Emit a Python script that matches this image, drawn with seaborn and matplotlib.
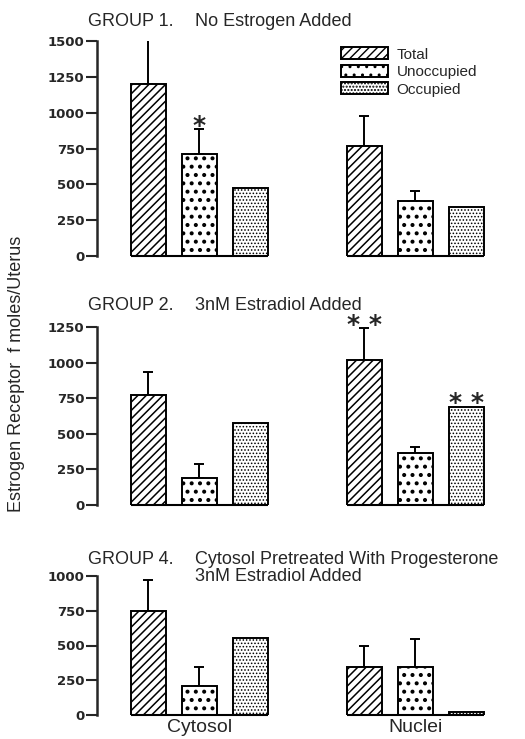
import numpy as np
import pandas as pd
import seaborn as sns
import matplotlib.pyplot as plt
from matplotlib.patches import Patch

sns.set_style("ticks")
plt.rcParams["font.family"] = ["Liberation Sans", "DejaVu Sans"]

# data (fmoles/uterus)
fractions = ["Cytosol", "Nuclei"]
receptor = ["Total", "Unoccupied", "Occupied"]

g1_cyt = [1200, 715, 477]
g1_cyt_err = [320, 170, np.nan]
g1_nuc = [770, 382, 345]
g1_nuc_err = [207, 72, np.nan]

g2_cyt = [774, 188, 575]
g2_cyt_err = [157, 100, np.nan]
g2_nuc = [1020, 368, 691]
g2_nuc_err = [223, 42, np.nan]

g4_cyt = [749, 208, 555]
g4_cyt_err = [220, 134, np.nan]
g4_nuc = [347, 347, 20]
g4_nuc_err = [150, 198, np.nan]

group_names = ["GROUP 1.", "GROUP 2.", "GROUP 4."]
group_desc = [["No Estrogen Added"], ["3nM Estradiol Added"],
              ["Cytosol Pretreated With Progesterone", "3nM Estradiol Added"]]
yticks = [np.arange(0, 1501, 250), np.arange(0, 1251, 250), np.arange(0, 1001, 250)]
stars = [{(1, 0): "*"}, {(0, 1): "* *", (2, 1): "* *"}, {}]

hatches = ["////", "..", "....."]
hatch_lw = [1.1, 1.7, 0.7]

panels = [(g1_cyt, g1_cyt_err, g1_nuc, g1_nuc_err),
          (g2_cyt, g2_cyt_err, g2_nuc, g2_nuc_err),
          (g4_cyt, g4_cyt_err, g4_nuc, g4_nuc_err)]

W, H = 525, 739
fig = plt.figure(figsize=(W / 100, H / 100), dpi=100)

# axes boxes in pixels: (zero line y, top y) and title baselines
boxes = [(256, 41), (505, 327), (715, 576)]
title_base = [26, 310, 564]
x0, x1 = 97, 523.5


def set_hlw(p, lw):
    if hasattr(p, "set_hatch_linewidth"):
        p.set_hatch_linewidth(lw)


for k, (cyt, cyt_err, nuc, nuc_err) in enumerate(panels):
    yb, yt = boxes[k]
    ax = fig.add_axes([x0 / W, (H - yb) / H, (x1 - x0) / W, (yb - yt) / H])

    df = pd.DataFrame({
        "fraction": np.repeat(fractions, 3),
        "receptor": receptor * 2,
        "value": cyt + nuc,
        "err": cyt_err + nuc_err,
    })
    sns.barplot(data=df, x="fraction", y="value", hue="receptor",
                hue_order=receptor, palette=["white"] * 3, errorbar=None,
                width=0.715, gap=0.32, edgecolor="black", linewidth=1.4,
                saturation=1, legend=False, ax=ax, zorder=2)

    bar_conts = list(ax.containers)
    lefts, rights = {0: [], 1: []}, {0: [], 1: []}
    for h, cont in enumerate(bar_conts):
        for j, p in enumerate(cont.patches):
            p.set_hatch(hatches[h])
            set_hlw(p, hatch_lw[h])
            lefts[j].append(p.get_x())
            rights[j].append(p.get_x() + p.get_width())
            e = df[(df.fraction == fractions[j]) & (df.receptor == receptor[h])]["err"].iloc[0]
            xc = p.get_x() + p.get_width() / 2
            top = p.get_height()
            if not np.isnan(e):
                ax.errorbar([xc], [top], yerr=[[0], [e]], fmt="none",
                            ecolor="black", elinewidth=1.4, capsize=3.5,
                            capthick=1.4, zorder=1)
                top = top + e
            if (h, j) in stars[k]:
                ax.annotate(stars[k][(h, j)], (xc, top), xytext=(0, 2.5),
                            textcoords="offset points", ha="center",
                            va="center", fontsize=18, fontweight="bold",
                            family="DejaVu Sans")

    for j in (0, 1):
        ax.hlines(0, min(lefts[j]), max(rights[j]), color="black", lw=1.5,
                  zorder=3, clip_on=False)

    ax.set_xlim(-0.4745, 1.5)
    ax.set_ylim(0, yticks[k][-1])
    ax.set_yticks(yticks[k])
    ax.tick_params(axis="y", labelsize=9.5, width=1.5, length=8, pad=1)
    for lab in ax.get_yticklabels():
        lab.set_fontweight("bold")
        lab.set_family("DejaVu Sans")
    ax.set_xlabel("")
    ax.set_ylabel("")
    ax.spines["left"].set_linewidth(1.8)
    for s in ("top", "right", "bottom"):
        ax.spines[s].set_visible(False)
    ax.set_facecolor("none")

    if k < 2:
        ax.set_xticks([])
    else:
        ax.set_xticks([0, 1])
        ax.set_xticklabels(fractions, fontsize=14)
        ax.tick_params(axis="x", length=0, pad=3)

    fig.text(88 / W, (H - title_base[k]) / H, group_names[k], fontsize=13,
             ha="left", va="baseline")
    for i, line in enumerate(group_desc[k]):
        fig.text(195 / W, (H - title_base[k] - 17 * i) / H, line, fontsize=13,
                 ha="left", va="baseline")

    if k == 0:
        handles = [Patch(facecolor="white", edgecolor="black", hatch=hatches[h],
                         linewidth=1.4, label=receptor[h]) for h in range(3)]
        for h, hd in enumerate(handles):
            set_hlw(hd, hatch_lw[h])
        ax.legend(handles=handles, loc="upper left",
                  bbox_to_anchor=((343 - x0) / (x1 - x0) - 0.012, 0.985),
                  frameon=False, fontsize=11, handlelength=3.1,
                  handleheight=0.85, handletextpad=0.55, labelspacing=0.2,
                  borderpad=0.2, borderaxespad=0)

fig.text(17 / W, (H - 374) / H, "Estrogen Receptor  f moles/Uterus",
         rotation=90, fontsize=13, ha="center", va="center")

fig.savefig("out.png", dpi=100)
